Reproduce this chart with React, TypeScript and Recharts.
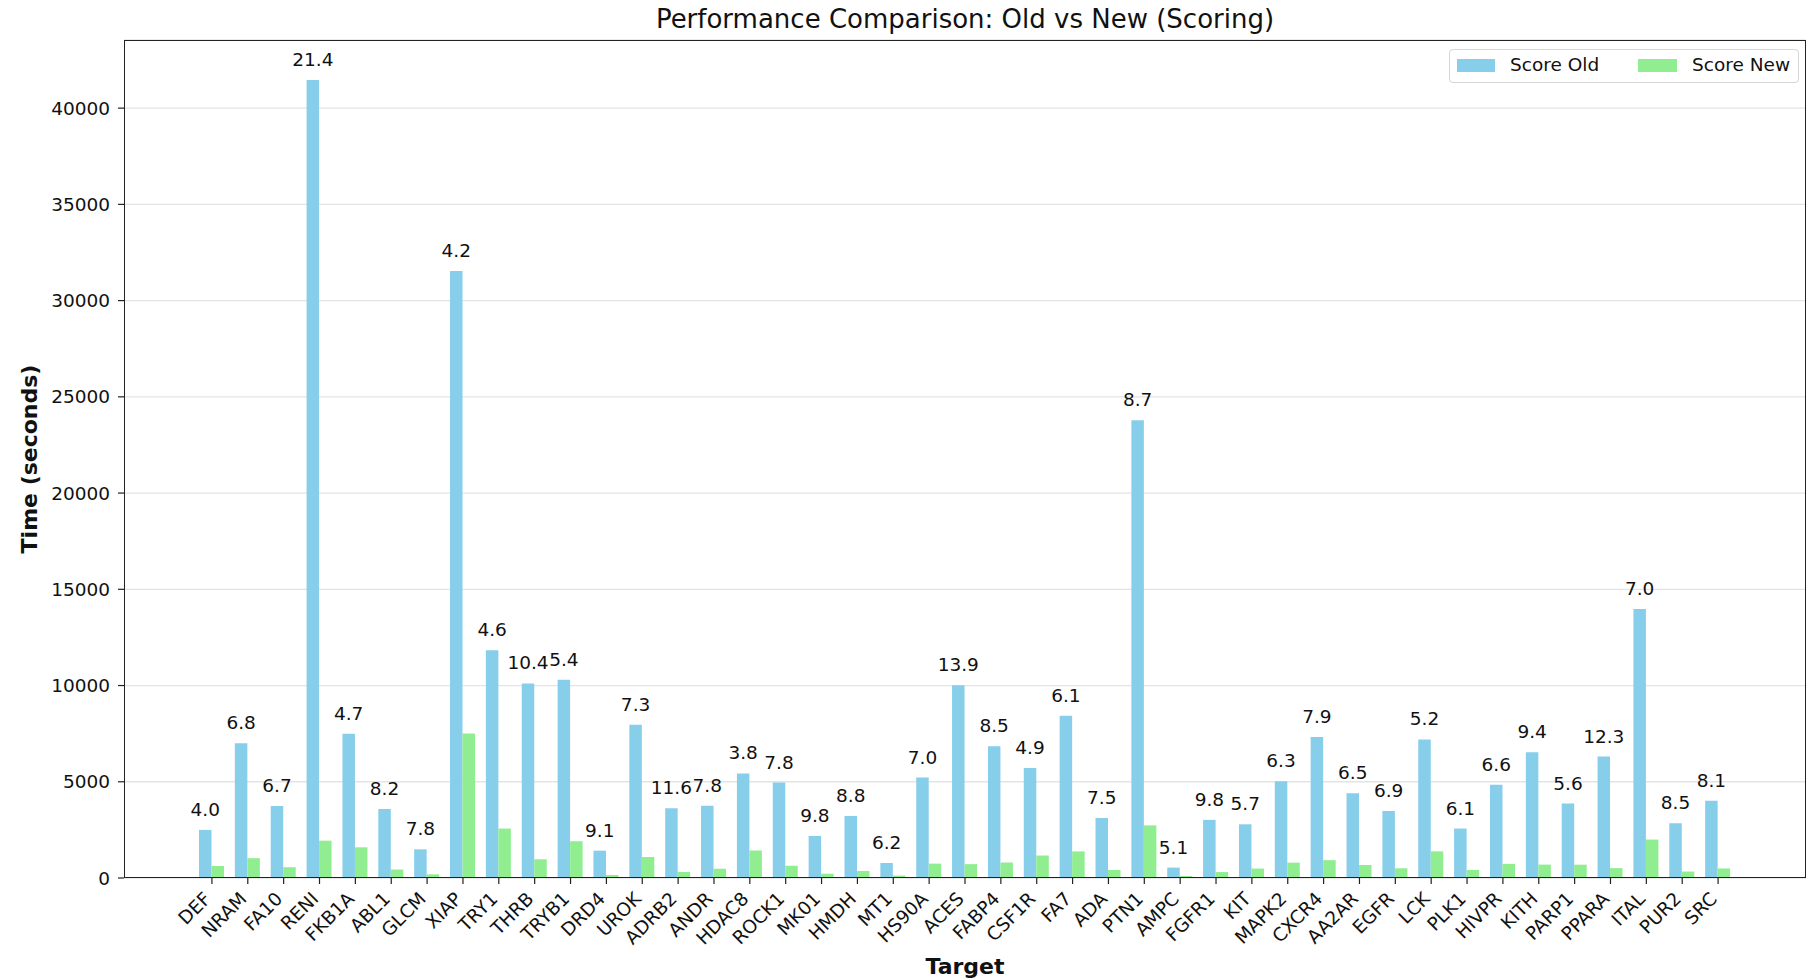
import { BarChart, Bar, XAxis, YAxis, CartesianGrid, LabelList } from 'recharts';

const FONT = '"DejaVu Sans", sans-serif';

const targets = [
  'DEF', 'NRAM', 'FA10', 'RENI', 'FKB1A', 'ABL1', 'GLCM', 'XIAP', 'TRY1', 'THRB', 'TRYB1',
  'DRD4', 'UROK', 'ADRB2', 'ANDR', 'HDAC8', 'ROCK1', 'MK01', 'HMDH', 'MT1', 'HS90A', 'ACES',
  'FABP4', 'CSF1R', 'FA7', 'ADA', 'PTN1', 'AMPC', 'FGFR1', 'KIT', 'MAPK2', 'CXCR4', 'AA2AR',
  'EGFR', 'LCK', 'PLK1', 'HIVPR', 'KITH', 'PARP1', 'PPARA', 'ITAL', 'PUR2', 'SRC',
];

// seconds
const scoreOld = [
  2500, 7000, 3745, 41460, 7490, 3590, 1490, 31540, 11830, 10110, 10300,
  1420, 7960, 3620, 3760, 5430, 4960, 2185, 3225, 780, 5220, 10020,
  6850, 5720, 8430, 3120, 23780, 540, 3020, 2790, 5030, 7320, 4400,
  3485, 7200, 2570, 4840, 6540, 3870, 6310, 13980, 2845, 4020,
];

const scoreNew = [
  625, 1030, 560, 1940, 1595, 440, 190, 7510, 2570, 972, 1910,
  156, 1090, 312, 482, 1428, 636, 223, 366, 126, 746, 721,
  806, 1168, 1382, 416, 2733, 106, 308, 490, 798, 927, 677,
  505, 1385, 421, 733, 696, 691, 513, 1997, 335, 496,
];

// speedup (old / new) printed above each old bar
const speedups = [
  '4.0', '6.8', '6.7', '21.4', '4.7', '8.2', '7.8', '4.2', '4.6', '10.4', '5.4',
  '9.1', '7.3', '11.6', '7.8', '3.8', '7.8', '9.8', '8.8', '6.2', '7.0', '13.9',
  '8.5', '4.9', '6.1', '7.5', '8.7', '5.1', '9.8', '5.7', '6.3', '7.9', '6.5',
  '6.9', '5.2', '6.1', '6.6', '9.4', '5.6', '12.3', '7.0', '8.5', '8.1',
];

const yTicks = [0, 5000, 10000, 15000, 20000, 25000, 30000, 35000, 40000];

const data = targets.map((target, i) => ({
  target,
  old: scoreOld[i],
  new: scoreNew[i],
  speedup: speedups[i],
}));

const W = 1813;
const H = 980;
const PLOT = { left: 124, top: 40, right: 1806, bottom: 878 };

const BLUE = '#87CEEB';
const GREEN = '#90EE90';

function TargetTick(props: any) {
  const { x, y, payload } = props;
  const ay = y + 14;
  return (
    <text
      x={x}
      y={ay}
      transform={`rotate(-45 ${x} ${ay})`}
      textAnchor="end"
      fontSize={18.5}
      fontFamily={FONT}
      fill="#111"
    >
      {payload.value}
    </text>
  );
}

function SpeedupLabel(props: any) {
  const { x, y, width, value } = props;
  return (
    <text x={x + width / 2} y={y - 14} textAnchor="middle" fontSize={18.5} fontFamily={FONT} fill="#111">
      {value}
    </text>
  );
}

export default function App() {
  return (
    <div style={{ position: 'absolute', left: 0, top: 0, width: W, height: H, background: '#fff', fontFamily: FONT }}>
      <div
        style={{
          position: 'absolute', left: PLOT.left, width: PLOT.right - PLOT.left, top: 3,
          textAlign: 'center', fontSize: 26, color: '#111', lineHeight: '32px',
        }}
      >
        Performance Comparison: Old vs New (Scoring)
      </div>

      <BarChart
        width={W}
        height={H}
        data={data}
        margin={{ top: PLOT.top, right: W - PLOT.right, bottom: 0, left: 0 }}
        barGap={0}
        barSize={12.5}
      >
        <CartesianGrid vertical={false} stroke="#e4e4e4" strokeWidth={1.3} />
        <XAxis
          dataKey="target"
          interval={0}
          height={H - PLOT.bottom}
          padding={{ left: 70, right: 70 }}
          axisLine={false}
          tickLine={{ stroke: '#222', strokeWidth: 1.2 }}
          tickSize={6}
          tick={<TargetTick />}
        />
        <YAxis
          width={PLOT.left}
          domain={[0, 43540]}
          ticks={yTicks}
          allowDataOverflow
          axisLine={false}
          tickLine={{ stroke: '#222', strokeWidth: 1.2 }}
          tickSize={6}
          tickMargin={8}
          tick={{ fontSize: 18.5, fontFamily: FONT, fill: '#111' }}
        />
        <Bar dataKey="old" name="Score Old" fill={BLUE} isAnimationActive={false}>
          <LabelList dataKey="speedup" content={<SpeedupLabel />} />
        </Bar>
        <Bar dataKey="new" name="Score New" fill={GREEN} isAnimationActive={false} />
      </BarChart>

      {/* axes frame */}
      <div
        style={{
          position: 'absolute', left: PLOT.left, top: PLOT.top,
          width: PLOT.right - PLOT.left, height: PLOT.bottom - PLOT.top,
          border: '1.4px solid #222', boxSizing: 'border-box', pointerEvents: 'none',
        }}
      />

      {/* legend */}
      <div
        style={{
          position: 'absolute', left: 1449, top: 49, width: 350, height: 34,
          border: '1px solid #d6d6d6', borderRadius: 4, background: 'rgba(255,255,255,0.8)',
          boxSizing: 'border-box', fontSize: 18.5, color: '#111',
        }}
      >
        <div style={{ position: 'absolute', left: 7, top: 9, width: 38, height: 12.5, background: BLUE }} />
        <div style={{ position: 'absolute', left: 60, top: 4, lineHeight: '22px' }}>Score Old</div>
        <div style={{ position: 'absolute', left: 188, top: 9, width: 39, height: 12.5, background: GREEN }} />
        <div style={{ position: 'absolute', left: 242, top: 4, lineHeight: '22px' }}>Score New</div>
      </div>

      {/* axis titles */}
      <div
        style={{
          position: 'absolute', left: PLOT.left, width: PLOT.right - PLOT.left, top: 953,
          textAlign: 'center', fontSize: 22, fontWeight: 'bold', color: '#111', lineHeight: '28px',
        }}
      >
        Target
      </div>
      <div
        style={{
          position: 'absolute', left: 30, top: 459, transform: 'translate(-50%, -50%) rotate(-90deg)',
          whiteSpace: 'nowrap', fontSize: 22, fontWeight: 'bold', color: '#111', lineHeight: '28px',
        }}
      >
        Time (seconds)
      </div>
    </div>
  );
}
